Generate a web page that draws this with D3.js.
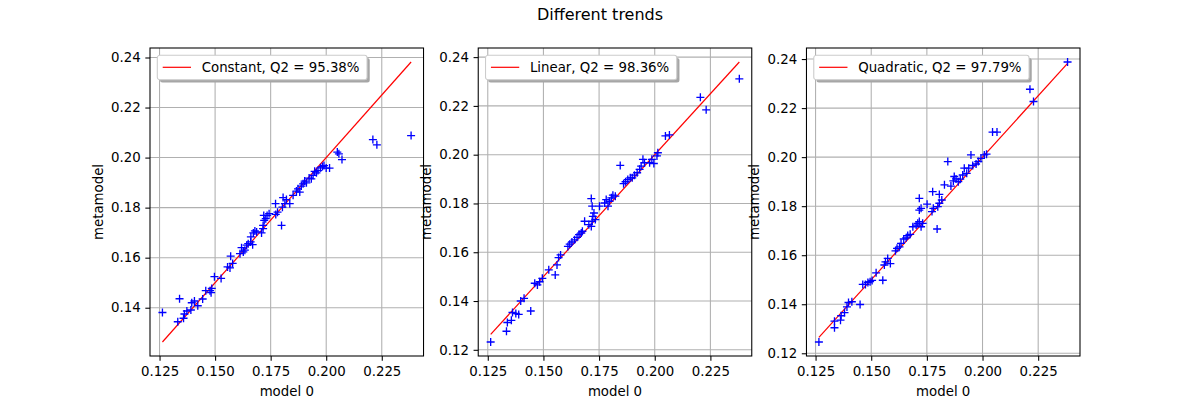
<!DOCTYPE html>
<html>
<head>
<meta charset="utf-8">
<script src="https://cdn.jsdelivr.net/npm/d3@7"></script>
<style>
  body { margin: 0; background: #fff; }
  svg { font-family: 'DejaVu Sans', sans-serif; }
</style>
</head>
<body>
<div id="chart-container"></div>
<script>
// [model 0, metamodel] pairs
const constantPoints = [
  [.1263,.1381],[.1340,.1436],[.1332,.1344],[.1358,.1358],[.1362,.1375],[.1373,.1387],[.1391,.1391],[.1395,.1420],
  [.1407,.1427],[.1422,.1408],[.1444,.1435],[.1458,.1468],[.1477,.1468],[.1485,.1477],[.1482,.1460],[.1497,.1524],
  [.1527,.1517],[.1556,.1563],[.1567,.1559],[.1579,.1577],[.1570,.1606],[.1612,.1616],[.1619,.1640],[.1627,.1623],
  [.1634,.1630],[.1642,.1650],[.1649,.1656],[.1660,.1663],[.1669,.1652],[.1661,.1683],[.1672,.1699],[.1679,.1707],
  [.1687,.1703],[.1709,.1699],[.1716,.1716],[.1716,.1729],[.1721,.1749],[.1719,.1769],[.1728,.1756],[.1734,.1769],
  [.1743,.1776],[.1773,.1773],[.1781,.1782],[.1772,.1816],[.1799,.1729],[.1806,.1840],[.1803,.1802],[.1814,.1816],
  [.1821,.1832],[.1836,.1816],[.1851,.1849],[.1866,.1866],[.1873,.1875],[.1881,.1862],[.1888,.1886],[.1896,.1895],
  [.1903,.1906],[.1911,.1899],[.1923,.1918],[.1933,.1915],[.1941,.1929],[.1948,.1945],[.1956,.1939],[.1963,.1948],
  [.1974,.1959],[.1983,.1964],[.1990,.1968],[.2000,.1958],[.2015,.1958],[.2050,.2022],[.2057,.2015],[.2071,.1992],
  [.2210,.2072],[.2228,.2051],[.2382,.2088]
];

const linearPoints = [
  [.1263,.1232],[.1334,.1276],[.1338,.1312],[.1356,.1321],[.1361,.1353],[.1376,.1349],[.1389,.1345],[.1398,.1400],
  [.1413,.1411],[.1443,.1359],[.1461,.1473],[.1473,.1466],[.1483,.1479],[.1495,.1493],[.1524,.1528],[.1553,.1507],
  [.1561,.1548],[.1568,.1578],[.1577,.1589],[.1610,.1624],[.1618,.1633],[.1628,.1642],[.1640,.1651],[.1651,.1661],
  [.1660,.1672],[.1670,.1679],[.1675,.1686],[.1685,.1727],[.1704,.1713],[.1715,.1706],[.1719,.1727],[.1722,.1747],
  [.1727,.1761],[.1719,.1789],[.1715,.1820],[.1733,.1734],[.1752,.1789],[.1775,.1802],[.1782,.1816],[.1790,.1789],
  [.1797,.1809],[.1805,.1823],[.1812,.1834],[.1823,.1830],[.1845,.1956],[.1860,.1881],[.1869,.1889],[.1879,.1898],
  [.1890,.1905],[.1899,.1905],[.1909,.1916],[.1921,.1926],[.1932,.1940],[.1939,.1953],[.1947,.1981],[.1954,.1967],
  [.1977,.1967],[.1987,.1981],[.1996,.1964],[.2010,.1995],[.2014,.2008],[.2048,.2077],[.2066,.2081],[.2205,.2235],
  [.2231,.2184],[.2380,.2311]
];

const quadraticPoints = [
  [.1265,.1246],[.1335,.1304],[.1335,.1331],[.1362,.1335],[.1365,.1353],[.1380,.1366],[.1391,.1389],[.1398,.1407],
  [.1413,.1410],[.1450,.1399],[.1462,.1481],[.1474,.1481],[.1485,.1489],[.1495,.1492],[.1504,.1497],[.1522,.1528],
  [.1552,.1498],[.1559,.1560],[.1574,.1587],[.1564,.1573],[.1586,.1566],[.1609,.1618],[.1616,.1628],[.1627,.1634],
  [.1634,.1648],[.1646,.1666],[.1657,.1671],[.1664,.1680],[.1675,.1685],[.1687,.1716],[.1702,.1723],[.1709,.1730],
  [.1716,.1737],[.1724,.1716],[.1731,.1730],[.1716,.1784],[.1724,.1791],[.1716,.1832],[.1751,.1808],[.1773,.1778],
  [.1779,.1791],[.1776,.1859],[.1796,.1707],[.1799,.1798],[.1806,.1812],[.1806,.1848],[.1817,.1825],[.1829,.1887],
  [.1844,.1982],[.1858,.1882],[.1869,.1903],[.1873,.1921],[.1881,.1911],[.1891,.1900],[.1900,.1910],[.1911,.1927],
  [.1918,.1955],[.1929,.1934],[.1938,.1955],[.1948,.2009],[.1956,.1966],[.1971,.1972],[.1981,.1982],[.1993,.1995],
  [.2008,.2009],[.2018,.2012],[.2045,.2102],[.2065,.2102],[.2213,.2277],[.2229,.2227],[.2382,.2388]
];

const trendNames = ['Constant', 'Linear', 'Quadratic'];
const q2Values = ['95.38%', '98.36%', '97.79%'];
const allPoints = [constantPoints, linearPoints, quadraticPoints];

const xTickValues = [0.125, 0.150, 0.175, 0.200, 0.225];
const yTickValues = [0.12, 0.14, 0.16, 0.18, 0.20, 0.22, 0.24];

const W = 1200, H = 400;
const svg = d3.select('#chart-container')
  .append('svg')
  .attr('width', W)
  .attr('height', H);

svg.append('text')
  .attr('x', 600)
  .attr('y', 20)
  .attr('text-anchor', 'middle')
  .style('font-size', '16px')
  .text('Different trends');

// matplotlib-like subplot grid: left .125, right .9, wspace .2
const axTop = 48, axBottom = 356;
const panelW = (0.775 * W) / 3.4;
const gap = panelW * 0.2;
const height = axBottom - axTop;

function pad(ext) {
  const m = (ext[1] - ext[0]) * 0.05;
  return [ext[0] - m, ext[1] + m];
}

allPoints.forEach((pts, i) => {
  const left = 150 + i * (panelW + gap);
  const g = svg.append('g').attr('transform', `translate(${left},${axTop})`);

  const xExt = d3.extent(pts, d => d[0]);
  const lineData = [[xExt[0], xExt[0]], [xExt[1], xExt[1]]];
  const yExt = d3.extent(pts.map(d => d[1]).concat(xExt));

  const x = d3.scaleLinear().domain(pad(xExt)).range([0, panelW]);
  const y = d3.scaleLinear().domain(pad(yExt)).range([height, 0]);

  const yTicks = yTickValues.filter(v => v >= y.domain()[0] && v <= y.domain()[1]);

  // grid
  g.append('g')
    .selectAll('line')
    .data(xTickValues)
    .enter().append('line')
    .attr('x1', d => x(d)).attr('x2', d => x(d))
    .attr('y1', 0).attr('y2', height)
    .attr('stroke', '#b0b0b0').attr('stroke-width', 1.07);
  g.append('g')
    .selectAll('line')
    .data(yTicks)
    .enter().append('line')
    .attr('y1', d => y(d)).attr('y2', d => y(d))
    .attr('x1', 0).attr('x2', panelW)
    .attr('stroke', '#b0b0b0').attr('stroke-width', 1.07);

  // y = x reference line
  g.append('path')
    .datum(lineData)
    .attr('d', d3.line().x(d => x(d[0])).y(d => y(d[1])))
    .attr('stroke', 'red')
    .attr('stroke-width', 1.2)
    .attr('fill', 'none');

  // points as "+" markers
  g.append('g')
    .selectAll('path')
    .data(pts)
    .enter().append('path')
    .attr('transform', d => `translate(${x(d[0])},${y(d[1])})`)
    .attr('d', 'M-4,0H4M0,-4V4')
    .attr('stroke', 'blue')
    .attr('stroke-width', 1.33)
    .attr('fill', 'none');

  // axes
  const xAxis = g.append('g')
    .attr('transform', `translate(0,${height})`)
    .call(d3.axisBottom(x).tickValues(xTickValues).tickFormat(d3.format('.3f'))
      .tickSize(4.67).tickPadding(6).tickSizeOuter(0));
  const yAxis = g.append('g')
    .call(d3.axisLeft(y).tickValues(yTicks).tickFormat(d3.format('.2f'))
      .tickSize(4.67).tickPadding(4.67).tickSizeOuter(0));
  [xAxis, yAxis].forEach(a => {
    a.select('.domain').remove();
    a.selectAll('line').attr('stroke', '#000').attr('stroke-width', 1.07);
    a.selectAll('text').attr('fill', '#000')
      .style('font-size', '13.33px').style('font-family', 'DejaVu Sans, sans-serif');
  });

  g.append('rect')
    .attr('width', panelW).attr('height', height)
    .attr('fill', 'none').attr('stroke', '#000').attr('stroke-width', 1.07);

  g.append('text')
    .attr('x', panelW / 2)
    .attr('y', 396 - axTop)
    .attr('text-anchor', 'middle')
    .style('font-size', '13.33px')
    .text('model 0');

  g.append('text')
    .attr('transform', `translate(-47.3,${height / 2}) rotate(-90)`)
    .attr('text-anchor', 'middle')
    .style('font-size', '13.33px')
    .text('metamodel');

  // legend with shadow
  const leg = g.append('g').attr('transform', 'translate(7.3,7.3)');
  const shadow = leg.append('rect');
  const box = leg.append('rect');
  leg.append('line')
    .attr('x1', 5.4).attr('x2', 33.7)
    .attr('y1', 12).attr('y2', 12)
    .attr('stroke', 'red').attr('stroke-width', 1.2);
  const label = leg.append('text')
    .attr('x', 44.4)
    .attr('y', 17)
    .style('font-size', '13.33px')
    .text(`${trendNames[i]}, Q2 = ${q2Values[i]}`);
  const bw = 44.4 + label.node().getComputedTextLength() + 7.5;
  const bh = 24.4;
  shadow.attr('x', 2.7).attr('y', 2.7).attr('width', bw).attr('height', bh)
    .attr('rx', 2.5).attr('fill', '#a6a6a6');
  box.attr('width', bw).attr('height', bh).attr('rx', 2.5)
    .attr('fill', '#fff').attr('stroke', '#cccccc').attr('stroke-width', 1.07);
});
</script>
</body>
</html>
